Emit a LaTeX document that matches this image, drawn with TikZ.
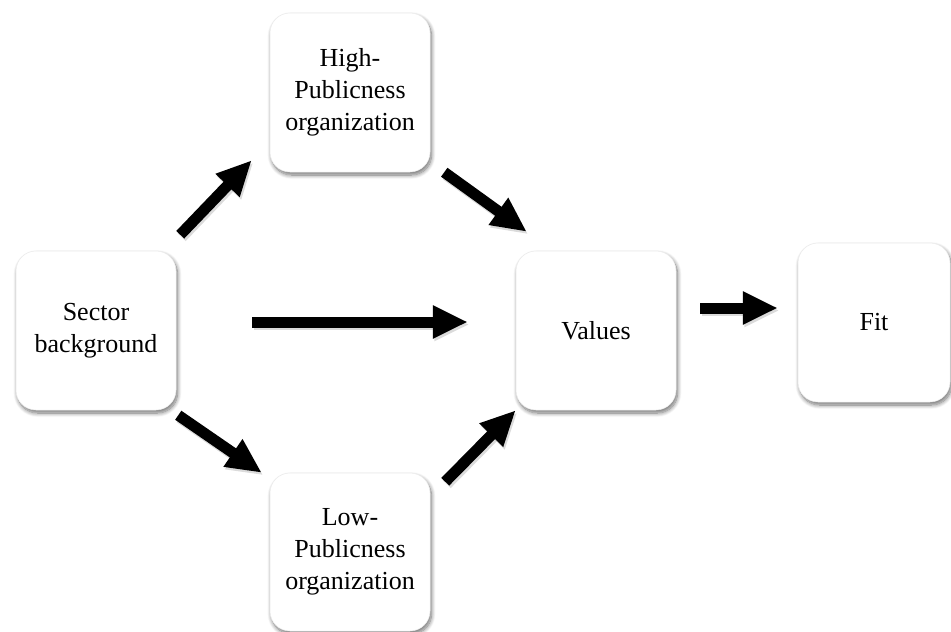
\documentclass[tikz,border=0pt]{standalone}
\usepackage{fontspec}
\setmainfont{Liberation Serif}
\usetikzlibrary{arrows.meta,calc,shadows.blur}

\tikzset{
  card/.style={
    rectangle, rounded corners=20pt, fill=white, draw=black!8, line width=0.5pt,
    minimum width=160pt, minimum height=159pt, inner sep=0pt,
    align=center, text width=150pt,
    font=\fontsize{26pt}{32pt}\selectfont,
    blur shadow={shadow xshift=1.5pt, shadow yshift=-3pt, shadow blur radius=4pt,
                 shadow blur steps=10, shadow opacity=55}
  },
  fatarrow/.style={
    line width=11pt, line cap=butt, draw=black,
    -{Triangle[length=35pt, width=31pt]}
  },
  fatshade/.style={
    line width=11pt, line cap=butt, draw=black!40, opacity=0.35,
    -{Triangle[length=35pt, width=31pt]}
  }
}

\begin{document}
\begin{tikzpicture}[x=1pt, y=-1pt]
  \useasboundingbox (0,0) rectangle (951,632);

  % boxes
  \node[card] (sector) at (96,330.5)  {Sector\\background};
  \node[card] (high)   at (350,92.5)  {High-\\Publicness\\organization};
  \node[card, minimum height=158pt] (low) at (350,552) {Low-\\Publicness\\organization};
  \node[card] (values) at (596,330.5) {Values};
  \node[card, minimum width=152pt, text width=142pt] (fit) at (874,322.5) {Fit};

  % arrow end points, placed relative to the boxes
  \coordinate (a1s) at ($(sector.north east)+(4,-16)$);
  \coordinate (a1e) at ($(high.south west)+(-18,-12)$);
  \coordinate (a2s) at ($(high.south east)+(14,0)$);
  \coordinate (a2e) at ($(values.north west)+(11,-19)$);
  \coordinate (a3s) at ($(sector.south east)+(2,5)$);
  \coordinate (a3e) at ($(low.north west)+(-8,0)$);
  \coordinate (a4s) at ($(low.north east)+(15,9)$);
  \coordinate (a4e) at ($(values.south west)+(0,0)$);
  \coordinate (a5s) at ($(sector.east)+(76,-8.5)$);
  \coordinate (a5e) at ($(values.west)+(-48,-8.5)$);
  \coordinate (a6s) at ($(values.east)+(24,-22.5)$);
  \coordinate (a6e) at ($(fit.west)+(-20,-14.5)$);

  % soft shade under the arrows
  \begin{scope}[transform canvas={xshift=1.5pt, yshift=-2.5pt}]
    \foreach \s/\e in {a1s/a1e, a2s/a2e, a3s/a3e, a4s/a4e, a5s/a5e, a6s/a6e}
      \draw[fatshade] (\s) -- (\e);
  \end{scope}

  % arrows
  \foreach \s/\e in {a1s/a1e, a2s/a2e, a3s/a3e, a4s/a4e, a5s/a5e, a6s/a6e}
    \draw[fatarrow] (\s) -- (\e);
\end{tikzpicture}
\end{document}
